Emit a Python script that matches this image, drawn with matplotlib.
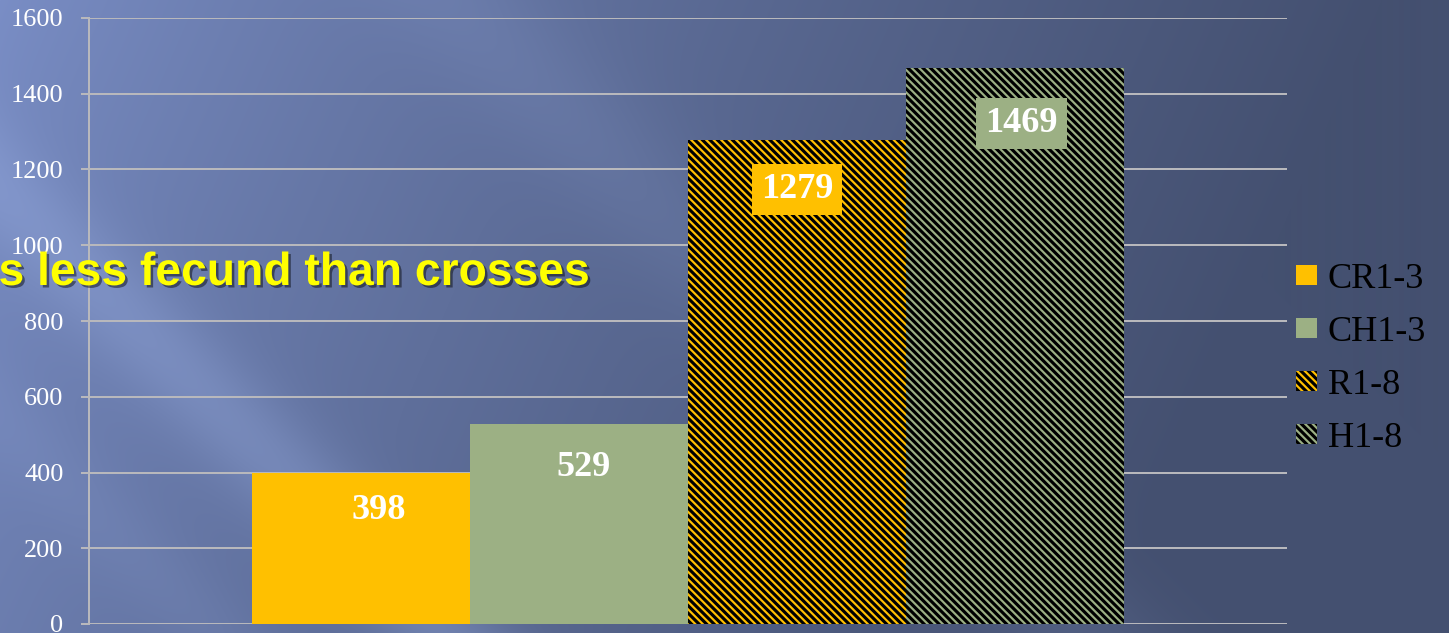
import numpy as np
import matplotlib
matplotlib.use("Agg")
import matplotlib.pyplot as plt
import matplotlib.patheffects as pe

series = ["CR1-3", "CH1-3", "R1-8", "H1-8"]
values = [398, 529, 1279, 1469]
y_ticks = [0, 200, 400, 600, 800, 1000, 1200, 1400, 1600]

YELLOW = "#FFC000"
GREEN = "#9CB084"
bar_colors = [YELLOW, GREEN, YELLOW, GREEN]
bar_hatch = [None, None, "\\\\\\\\", "\\\\\\\\"]

W, H, DPI = 1449, 633, 90
plt.rcParams["hatch.linewidth"] = 2.5

fig = plt.figure(figsize=(W / DPI, H / DPI), dpi=DPI)

# slide background: blue gradient with soft diagonal light streaks
bg = fig.add_axes([0, 0, 1, 1], zorder=-10)
yy, xx = np.mgrid[0:H, 0:W].astype(float)
t = np.clip(1.05 * xx / W + 0.2 * yy / H, 0, 1) ** 0.8
light = np.array([122, 142, 198]) / 255
dark = np.array([68, 80, 112]) / 255
img = light + (dark - light) * t[..., None]
streak_col = np.array([160, 182, 235]) / 255
for c, w, k in [(-190, 70, 0.30), (450, 90, 0.12), (-420, 60, 0.10)]:
    s = k * np.exp(-(((xx - yy) - c) / w) ** 2)
    img = img + (streak_col - img) * s[..., None]
bg.imshow(np.clip(img, 0, 1), aspect="auto", extent=[0, 1, 0, 1])
bg.axis("off")

ax = fig.add_axes([89 / W, 9 / H, 1198 / W, 606 / H])
ax.patch.set_alpha(0)

width = 0.182
offsets = (np.arange(len(series)) - 1.5) * width
bars = []
for off, val, name, col, hat in zip(offsets, values, series, bar_colors, bar_hatch):
    b = ax.bar(0.5 + off, val, width, color=col, label=name, zorder=3,
               hatch=hat, edgecolor="black" if hat else col, linewidth=0)
    bars.append(b)

ax.set_xlim(0, 1)
ax.set_ylim(0, 1600)
ax.set_yticks(y_ticks)
ax.set_xticks([])
ax.grid(axis="y", color="#B8B8BC", linewidth=1.6, zorder=1)
for side in ["top", "right", "bottom"]:
    ax.spines[side].set_visible(False)
ax.spines["left"].set_color("#B8B8BC")
ax.spines["left"].set_linewidth(1.6)
ax.tick_params(axis="y", colors="#B8B8BC", length=6.4, width=1.6, pad=14,
               labelcolor="white")
for lbl in ax.get_yticklabels():
    lbl.set_fontfamily("Liberation Serif")
    lbl.set_fontsize(21)

# value labels inside the bar tops; the hatched bars get a solid box behind
label_dx = [14, 4, 0, 5]
label_dy = [-30, -35, -40, -45]
for b, val, col, hat, dx, dy in zip(bars, values, bar_colors, bar_hatch, label_dx, label_dy):
    rect = b[0]
    box = dict(boxstyle="square,pad=0.25", facecolor=col, edgecolor="none") if hat else None
    ax.annotate(str(val), (rect.get_x() + rect.get_width() / 2, val),
                xytext=(dx, dy), textcoords="offset points",
                ha="center", va="center", color="white", fontsize=29,
                fontweight="bold", family="Liberation Serif", bbox=box, zorder=5)

leg = fig.legend(loc="center left", bbox_to_anchor=(1296 / W, (H - 359) / H),
                 frameon=False, prop={"family": "Liberation Serif", "size": 29},
                 handlelength=0.58, handleheight=0.47, handletextpad=0.3,
                 labelspacing=0.55, borderpad=0, borderaxespad=0)
for txt in leg.get_texts():
    txt.set_color("black")

fig.text(590 / W, (H - 285) / H, "s less fecund than crosses", ha="right",
         va="baseline", color="#FFFF00", fontsize=37, fontweight="bold",
         family="Liberation Sans",
         path_effects=[pe.SimplePatchShadow(offset=(2, -2), shadow_rgbFace="black",
                                            alpha=0.45), pe.Normal()])

fig.savefig("out.png", dpi=DPI)
